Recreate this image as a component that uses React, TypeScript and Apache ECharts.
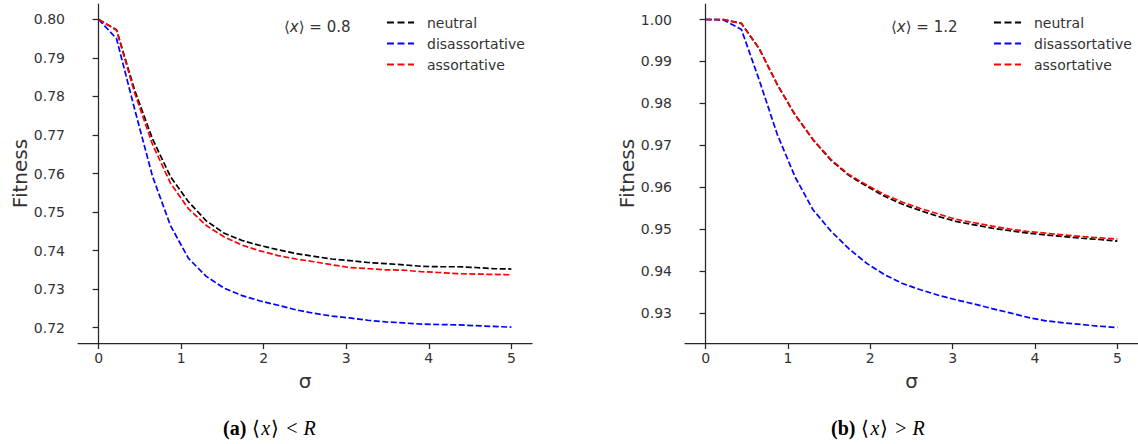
import React, { useEffect, useRef } from "react";
import * as echarts from "echarts";

const sigma = [0, 0.217, 0.435, 0.652, 0.87, 1.087, 1.304, 1.522, 1.739, 1.957, 2.174, 2.391, 2.609, 2.826, 3.043, 3.261, 3.478, 3.696, 3.913, 4.13, 4.348, 4.565, 4.783, 5.0];

const leftNeutral = [0.8, 0.7973, 0.7817, 0.769, 0.7592, 0.7527, 0.7477, 0.7445, 0.7426, 0.7413, 0.7402, 0.7392, 0.7385, 0.7378, 0.7374, 0.7369, 0.7366, 0.7363, 0.7359, 0.7358, 0.7358, 0.7356, 0.7353, 0.7352];
const leftDisassort = [0.8, 0.795, 0.7768, 0.7593, 0.7465, 0.738, 0.7333, 0.7302, 0.7283, 0.7269, 0.7258, 0.7246, 0.7237, 0.723, 0.7225, 0.7219, 0.7215, 0.7212, 0.7209, 0.7208, 0.7207, 0.7205, 0.7203, 0.7201];
const leftAssort = [0.8, 0.7972, 0.781, 0.7676, 0.7575, 0.7509, 0.7465, 0.7435, 0.7414, 0.7399, 0.7387, 0.7378, 0.7371, 0.7363, 0.7356, 0.7353, 0.735, 0.7349, 0.7345, 0.7343, 0.734, 0.7339, 0.7338, 0.7337];

const rightNeutral = [1.0, 1.0, 0.9991, 0.993, 0.9845, 0.9772, 0.9713, 0.9664, 0.9628, 0.9602, 0.9578, 0.9559, 0.9544, 0.953, 0.9518, 0.951, 0.9502, 0.9496, 0.949, 0.9486, 0.9482, 0.9478, 0.9475, 0.9471];
const rightDisassort = [1.0, 0.9999, 0.9976, 0.9855, 0.9726, 0.9624, 0.9546, 0.9495, 0.9453, 0.9418, 0.9391, 0.937, 0.9355, 0.9342, 0.9331, 0.9321, 0.931, 0.93, 0.9289, 0.9281, 0.9276, 0.9272, 0.9268, 0.9265];
const rightAssort = [1.0, 1.0, 0.999, 0.993, 0.9845, 0.9773, 0.9714, 0.9666, 0.963, 0.9605, 0.9582, 0.9564, 0.9549, 0.9536, 0.9523, 0.9515, 0.9507, 0.95, 0.9494, 0.949, 0.9486, 0.9482, 0.9479, 0.9476];

const xTicks = [0, 1, 2, 3, 4, 5];
const leftYTicks = [0.72, 0.73, 0.74, 0.75, 0.76, 0.77, 0.78, 0.79, 0.8];
const rightYTicks = [0.93, 0.94, 0.95, 0.96, 0.97, 0.98, 0.99, 1.0];
const seriesNames = ["neutral", "disassortative", "assortative"];
const seriesColors = ["#000000", "#0000ff", "#ff0000"];

const AXIS_COLOR = "#262626";
const LABEL_COLOR = "#333333";
const FONT = "DejaVu Sans";
const DASH_ICON = "path://M0,0h7v2h-7z M10.5,0h7v2h-7z M21,0h6v2h-6z";

function makeX(gridIndex: number) {
  return {
    type: "value",
    gridIndex,
    min: -0.25,
    max: 5.25,
    name: "σ",
    nameLocation: "middle",
    nameGap: 28,
    nameTextStyle: { fontSize: 20, color: LABEL_COLOR, fontFamily: FONT },
    axisLine: { show: true, lineStyle: { color: AXIS_COLOR, width: 1.25 } },
    axisTick: { show: true, length: 6, customValues: xTicks, lineStyle: { color: AXIS_COLOR, width: 1.25 } },
    axisLabel: { customValues: xTicks, fontSize: 14, color: LABEL_COLOR, margin: 8, fontFamily: FONT },
    splitLine: { show: false },
  };
}

function makeY(gridIndex: number, min: number, max: number, ticks: number[]) {
  return {
    type: "value",
    gridIndex,
    min,
    max,
    name: "Fitness",
    nameLocation: "middle",
    nameGap: 46,
    nameRotate: 90,
    nameTextStyle: { fontSize: 20, color: LABEL_COLOR, fontFamily: FONT },
    axisLine: { show: true, lineStyle: { color: AXIS_COLOR, width: 1.25 } },
    axisTick: { show: true, length: 6, customValues: ticks, lineStyle: { color: AXIS_COLOR, width: 1.25 } },
    axisLabel: {
      customValues: ticks,
      fontSize: 14,
      color: LABEL_COLOR,
      margin: 13,
      fontFamily: FONT,
      formatter: (v: number) => v.toFixed(2),
    },
    splitLine: { show: false },
  };
}

function makeSeries(idx: number, values: number[][]) {
  return values.map((vals, k) => ({
    type: "line",
    name: seriesNames[k],
    xAxisIndex: idx,
    yAxisIndex: idx,
    data: sigma.map((s, i) => [s, vals[i]]),
    symbol: "none",
    showSymbol: false,
    lineStyle: { color: seriesColors[k], width: 1.7, type: [6, 2.5] },
    itemStyle: { color: seriesColors[k] },
  }));
}

function makeLegend(left: number) {
  return {
    orient: "vertical",
    left,
    top: 9,
    icon: DASH_ICON,
    itemWidth: 27,
    itemHeight: 2,
    itemGap: 4,
    data: seriesNames,
    selectedMode: false,
    textStyle: { fontSize: 14, color: LABEL_COLOR, fontFamily: FONT, padding: [0, 0, 0, 8], lineHeight: 17 },
  };
}

function annotation(left: number, value: string) {
  return {
    type: "text",
    left,
    top: 19,
    style: {
      text: "{n|⟨}{i|x}{n|⟩ = " + value + "}",
      rich: {
        n: { fontSize: 15, fill: LABEL_COLOR, fontFamily: FONT },
        i: { fontSize: 15, fill: LABEL_COLOR, fontFamily: FONT, fontStyle: "italic" },
      },
    },
  };
}

function caption(left: number, label: string, op: string) {
  const serif = "Liberation Serif";
  return {
    type: "text",
    left,
    top: 418,
    style: {
      text: "{b|(" + label + ")}{m|⟨}{i|x}{m|⟩}{o|" + op + "}{r|R}",
      rich: {
        b: { fontSize: 20, fill: "#000", fontFamily: serif, fontWeight: "bold", padding: [0, 5, 0, 0] },
        m: { fontSize: 20, fill: "#000", fontFamily: serif, padding: [0, 1, 0, 1] },
        i: { fontSize: 20, fill: "#000", fontFamily: serif, fontStyle: "italic" },
        o: { fontSize: 20, fill: "#000", fontFamily: serif, padding: [0, 6, 0, 6] },
        r: { fontSize: 20, fill: "#000", fontFamily: serif, fontStyle: "italic" },
      },
    },
  };
}

export default function App() {
  const ref = useRef<HTMLDivElement>(null);
  useEffect(() => {
    if (!ref.current) return;
    const chart = echarts.init(ref.current, undefined, { renderer: "svg" });
    chart.setOption({
      animation: false,
      backgroundColor: "#ffffff",
      textStyle: { fontFamily: FONT },
      grid: [
        { left: 78, top: 4, width: 454, height: 339 },
        { left: 685, top: 4, width: 455, height: 339 },
      ],
      xAxis: [makeX(0), makeX(1)],
      yAxis: [makeY(0, 0.716, 0.804, leftYTicks), makeY(1, 0.9228, 1.0037, rightYTicks)],
      legend: [makeLegend(382), makeLegend(989)],
      series: [
        ...makeSeries(0, [leftNeutral, leftDisassort, leftAssort]),
        ...makeSeries(1, [rightNeutral, rightDisassort, rightAssort]),
      ],
      graphic: [
        annotation(284, "0.8"),
        annotation(891, "1.2"),
        caption(223, "a", "<"),
        caption(831, "b", ">"),
      ],
    });
    return () => chart.dispose();
  }, []);
  return <div ref={ref} style={{ position: "absolute", left: 0, top: 0, width: 1138, height: 444 }} />;
}
